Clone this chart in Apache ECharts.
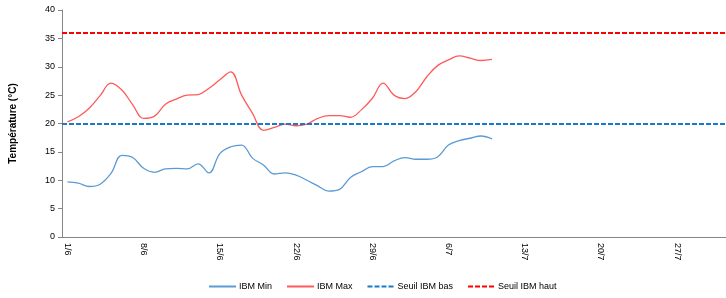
<!DOCTYPE html>
<html>
<head>
<meta charset="utf-8">
<script src="https://cdn.jsdelivr.net/npm/echarts@6/dist/echarts.min.js"></script>
<style>
  html, body { margin: 0; padding: 0; background: #fff; }
  #chart { width: 726px; height: 298px; }
</style>
</head>
<body>
<div id="chart"></div>
<script>
// jours du 1/6 au 31/7
const dates = [
  '1/6', '2/6', '3/6', '4/6', '5/6', '6/6', '7/6', '8/6', '9/6', '10/6',
  '11/6', '12/6', '13/6', '14/6', '15/6', '16/6', '17/6', '18/6', '19/6', '20/6',
  '21/6', '22/6', '23/6', '24/6', '25/6', '26/6', '27/6', '28/6', '29/6', '30/6',
  '1/7', '2/7', '3/7', '4/7', '5/7', '6/7', '7/7', '8/7', '9/7', '10/7',
  '11/7', '12/7', '13/7', '14/7', '15/7', '16/7', '17/7', '18/7', '19/7', '20/7',
  '21/7', '22/7', '23/7', '24/7', '25/7', '26/7', '27/7', '28/7', '29/7', '30/7',
  '31/7'
];

const ibmMin = [
  9.7, 9.5, 8.9, 9.3, 11.2, 14.4, 14.0, 12.1, 11.4, 12.0,
  12.1, 12.0, 12.9, 11.3, 14.7, 15.9, 16.2, 13.9, 12.7, 11.1,
  11.3, 10.9, 10.0, 9.0, 8.1, 8.4, 10.5, 11.5, 12.4, 12.4,
  13.4, 14.0, 13.7, 13.7, 14.1, 16.2, 17.0, 17.4, 17.8, 17.3
];

const ibmMax = [
  20.3, 21.2, 22.7, 24.9, 27.1, 25.9, 23.3, 20.9, 21.3, 23.4,
  24.3, 25.0, 25.1, 26.2, 27.7, 29.1, 25.0, 21.8, 18.8, 19.3,
  19.9, 19.6, 19.9, 20.9, 21.4, 21.4, 21.1, 22.4, 24.4, 27.1,
  25.0, 24.4, 25.6, 28.2, 30.2, 31.2, 31.9, 31.5, 31.1, 31.3
];

const seuilBas = 20;
const seuilHaut = 36;
const yTicks = [0, 5, 10, 15, 20, 25, 30, 35, 40];

const textFont = 'Liberation Sans';
const axisColor = '#868686';

const chart = echarts.init(document.getElementById('chart'));

function seuilSeries(name, value, color) {
  return {
    name,
    type: 'line',
    data: [],
    symbol: 'none',
    lineStyle: { color, width: 2, type: [5, 2] },
    itemStyle: { color },
    markLine: {
      silent: true,
      symbol: 'none',
      label: { show: false },
      lineStyle: { color, width: 2, type: [5, 2] },
      data: [{ yAxis: value }]
    }
  };
}

const option = {
  animation: false,
  grid: { left: 62, right: -6, top: 10, bottom: 61 },
  legend: {
    left: 203,
    top: 277,
    itemWidth: 27,
    itemHeight: 10,
    itemGap: 14,
    itemStyle: { opacity: 0 },
    textStyle: { fontFamily: textFont, fontSize: 9, color: '#000', padding: [0, 0, 0, -2] },
    data: ['IBM Min', 'IBM Max', 'Seuil IBM bas', 'Seuil IBM haut']
  },
  xAxis: {
    type: 'category',
    data: dates,
    boundaryGap: true,
    axisLine: { lineStyle: { color: axisColor, width: 1 } },
    axisTick: { interval: 6, length: 4, lineStyle: { color: axisColor } },
    axisLabel: {
      interval: 6,
      rotate: -90,
      margin: 6,
      fontFamily: textFont,
      fontSize: 9,
      color: '#000'
    },
    splitLine: { show: false }
  },
  yAxis: {
    type: 'value',
    min: yTicks[0],
    max: yTicks[yTicks.length - 1],
    interval: 5,
    name: 'Température (°C)',
    nameLocation: 'middle',
    nameGap: 44,
    nameTextStyle: { fontFamily: textFont, fontSize: 10, fontWeight: 'bold', color: '#000' },
    axisLine: { show: true, lineStyle: { color: axisColor, width: 1 } },
    axisTick: { show: true, length: 4, lineStyle: { color: axisColor } },
    axisLabel: { fontFamily: textFont, fontSize: 9, color: '#000', margin: 7 },
    splitLine: { show: false }
  },
  series: [
    {
      name: 'IBM Min',
      type: 'line',
      data: ibmMin,
      smooth: 0.4,
      symbol: 'none',
      lineStyle: { color: '#5b9bd5', width: 1.3 },
      itemStyle: { color: '#5b9bd5' }
    },
    {
      name: 'IBM Max',
      type: 'line',
      data: ibmMax,
      smooth: 0.4,
      symbol: 'none',
      lineStyle: { color: '#ff5a5a', width: 1.3 },
      itemStyle: { color: '#ff5a5a' }
    },
    seuilSeries('Seuil IBM bas', seuilBas, '#1a7ac8'),
    seuilSeries('Seuil IBM haut', seuilHaut, '#ff0000')
  ]
};

chart.setOption(option);
</script>
</body>
</html>
